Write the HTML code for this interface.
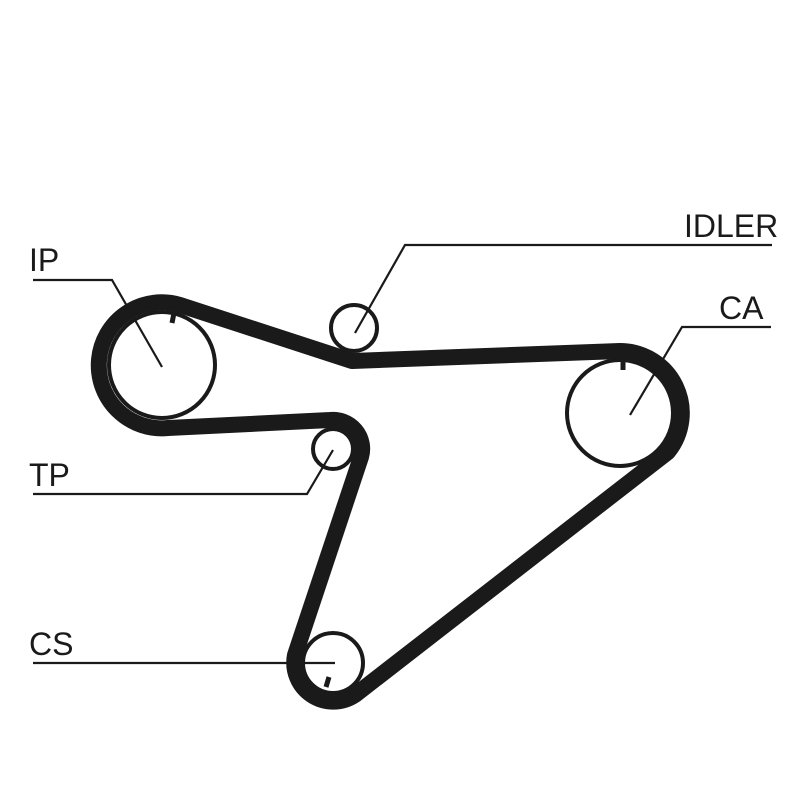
<!DOCTYPE html>
<html><head><style>
html,body{margin:0;padding:0;background:#fff;}
svg{display:block}
text{font-family:"Liberation Sans",sans-serif;font-size:32px;fill:#1a1a1a;}
</style></head><body>
<svg width="800" height="800" viewBox="0 0 800 800" xmlns="http://www.w3.org/2000/svg">
<g fill="none" stroke="#1a1a1a">
  <!-- belt -->
  <path stroke-width="16" stroke-linejoin="round" d="M352,361 L180,305 A63,63 0 1 0 168,428 L330,420 A29,29 0 0 1 361,457 L295,655 A39,39 0 0 0 355,695 L668,452 A62,62 0 0 0 620,351 Z"/>
  <!-- pulleys -->
  <circle cx="162" cy="365" r="53" stroke-width="4"/>
  <circle cx="354" cy="328" r="23" stroke-width="4"/>
  <circle cx="333" cy="449" r="20" stroke-width="4"/>
  <circle cx="333" cy="663" r="30" stroke-width="4"/>
  <circle cx="620" cy="413" r="53" stroke-width="4"/>
  <!-- ticks -->
  <line x1="174" y1="313" x2="172" y2="323" stroke-width="5"/>
  <line x1="623" y1="358" x2="623" y2="370" stroke-width="5"/>
  <line x1="329" y1="677" x2="326" y2="687" stroke-width="5"/>
  <!-- leaders -->
  <g stroke-width="2.2">
    <polyline points="33,280 112,280 162,367"/>
    <polyline points="772,245 405,245 355,333"/>
    <polyline points="771,327 682,327 630,415"/>
    <polyline points="33,494 307,494 333,450"/>
    <polyline points="33,663 335,663"/>
  </g>
</g>
<text x="29" y="271">IP</text>
<text x="684" y="237">IDLER</text>
<text x="719" y="319">CA</text>
<text x="29" y="486">TP</text>
<text x="29" y="655">CS</text>
</svg>
</body></html>
